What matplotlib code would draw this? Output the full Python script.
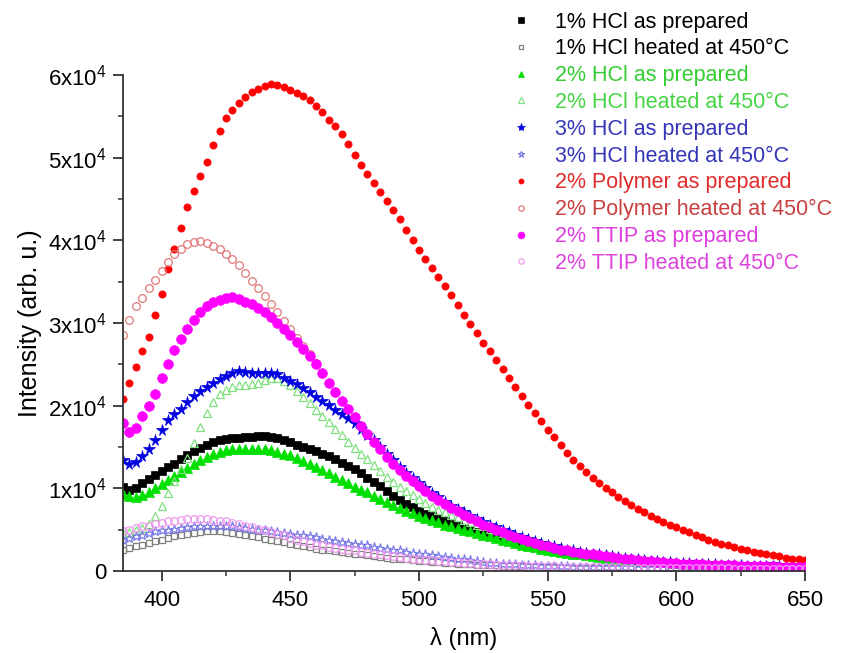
import numpy as np
import matplotlib
matplotlib.use('Agg')
import matplotlib.pyplot as plt
from matplotlib.ticker import MultipleLocator, FuncFormatter

plt.rcParams['font.family'] = ['Liberation Sans', 'DejaVu Sans']
plt.rcParams['mathtext.fontset'] = 'custom'
plt.rcParams['mathtext.rm'] = 'Liberation Sans'
plt.rcParams['mathtext.it'] = 'Liberation Sans:italic'

# wavelength grid of the readings (nm), one reading every 2.5 nm
wl = np.arange(385.0, 650.01, 2.5)

# PL intensities, in units of 10^3 (arb. u.)
hcl1_prep = [10.2, 9.8, 10.1, 10.6, 11.1, 11.6, 12.1, 12.6, 13.0, 13.5,
             14.0, 14.5, 14.9, 15.3, 15.6, 15.8, 16.0, 16.1, 16.1, 16.2,
             16.2, 16.3, 16.3, 16.2, 16.1, 15.9, 15.6, 15.3, 15.0, 14.8,
             14.5, 14.2, 13.9, 13.5, 13.1, 12.7, 12.3, 11.8, 11.3, 10.8,
             10.3, 9.7, 9.1, 8.6, 8.1, 7.7, 7.3, 6.9, 6.6, 6.3,
             6.0, 5.7, 5.4, 5.2, 4.9, 4.7, 4.5, 4.3, 4.1, 3.9,
             3.7, 3.5, 3.3, 3.1, 2.9, 2.8, 2.6, 2.5, 2.3, 2.2,
             2.1, 2.0, 1.9, 1.8, 1.7, 1.6, 1.5, 1.45, 1.4, 1.3,
             1.25, 1.2, 1.1, 1.05, 1.0, 0.95, 0.9, 0.87, 0.84, 0.81,
             0.78, 0.75, 0.72, 0.7, 0.68, 0.66, 0.64, 0.62, 0.6, 0.58,
             0.56, 0.55, 0.54, 0.53, 0.52, 0.51, 0.5]
hcl1_heat = [2.6, 2.8, 3.0, 3.2, 3.4, 3.6, 3.8, 4.0, 4.2, 4.4,
             4.5, 4.6, 4.7, 4.8, 4.8, 4.8, 4.7, 4.6, 4.5, 4.4,
             4.2, 4.1, 3.9, 3.8, 3.6, 3.5, 3.3, 3.2, 3.0, 2.9,
             2.7, 2.6, 2.5, 2.4, 2.3, 2.2, 2.1, 2.0, 1.9, 1.8,
             1.7, 1.6, 1.5, 1.45, 1.4, 1.3, 1.25, 1.2, 1.1, 1.05,
             1.0, 0.95, 0.9, 0.85, 0.8, 0.77, 0.74, 0.71, 0.68, 0.65,
             0.62, 0.59, 0.56, 0.54, 0.52, 0.5, 0.48, 0.46, 0.44, 0.42,
             0.4, 0.39, 0.38, 0.37, 0.36, 0.35, 0.34, 0.33, 0.32, 0.31,
             0.3, 0.29, 0.28, 0.28, 0.27, 0.26, 0.26, 0.25, 0.25, 0.24,
             0.24, 0.23, 0.23, 0.22, 0.22, 0.21, 0.21, 0.2, 0.2, 0.2,
             0.19, 0.19, 0.19, 0.18, 0.18, 0.18, 0.17]
hcl2_prep = [9.3, 9.1, 9.0, 9.2, 9.6, 10.0, 10.5, 11.0, 11.5, 12.0,
             12.5, 13.0, 13.4, 13.8, 14.1, 14.4, 14.6, 14.7, 14.8, 14.8,
             14.8, 14.8, 14.7, 14.6, 14.4, 14.2, 14.0, 13.7, 13.3, 13.0,
             12.6, 12.2, 11.8, 11.4, 11.0, 10.6, 10.2, 9.8, 9.5, 9.1,
             8.7, 8.4, 8.0, 7.6, 7.3, 7.0, 6.7, 6.4, 6.2, 5.9,
             5.6, 5.4, 5.2, 5.0, 4.8, 4.6, 4.4, 4.2, 4.0, 3.8,
             3.6, 3.4, 3.2, 3.0, 2.9, 2.7, 2.6, 2.4, 2.3, 2.2,
             2.1, 2.0, 1.9, 1.8, 1.7, 1.6, 1.5, 1.45, 1.4, 1.3,
             1.25, 1.2, 1.15, 1.1, 1.05, 1.0, 0.95, 0.9, 0.87, 0.84,
             0.81, 0.78, 0.75, 0.72, 0.7, 0.68, 0.66, 0.64, 0.62, 0.6,
             0.58, 0.56, 0.55, 0.54, 0.53, 0.52, 0.51]
hcl2_heat = [4.6, 4.7, 4.9, 5.2, 5.7, 6.6, 7.9, 9.4, 10.9, 12.3,
             13.7, 15.5, 17.4, 19.1, 20.4, 21.4, 21.9, 22.3, 22.5, 22.5,
             22.6, 22.8, 23.1, 23.3, 23.3, 23.0, 22.5, 21.8, 21.0, 20.3,
             19.5, 18.8, 18.0, 17.2, 16.4, 15.6, 14.9, 14.2, 13.5, 12.8,
             12.1, 11.4, 10.8, 10.2, 9.7, 9.2, 8.7, 8.2, 7.8, 7.4,
             7.1, 6.8, 6.5, 6.2, 5.9, 5.6, 5.4, 5.1, 4.9, 4.6,
             4.4, 4.2, 4.0, 3.8, 3.6, 3.4, 3.2, 3.0, 2.9, 2.7,
             2.6, 2.4, 2.3, 2.2, 2.1, 2.0, 1.9, 1.8, 1.7, 1.6,
             1.5, 1.4, 1.35, 1.3, 1.2, 1.15, 1.1, 1.05, 1.0, 0.96,
             0.92, 0.88, 0.85, 0.82, 0.79, 0.76, 0.73, 0.7, 0.68, 0.66,
             0.64, 0.62, 0.6, 0.58, 0.57, 0.56, 0.55]
hcl3_prep = [13.4, 12.9, 13.2, 13.9, 14.8, 15.9, 17.1, 18.3, 19.0, 19.6,
             20.5, 21.2, 21.8, 22.3, 22.8, 23.2, 23.6, 24.0, 24.2, 24.1,
             23.9, 23.9, 24.0, 24.0, 23.8, 23.4, 23.0, 22.6, 22.1, 21.6,
             21.1, 20.6, 20.1, 19.5, 19.0, 18.5, 17.9, 17.2, 16.5, 15.8,
             15.0, 14.2, 13.4, 12.6, 11.9, 11.2, 10.6, 10.0, 9.4, 8.9,
             8.4, 7.9, 7.5, 7.1, 6.7, 6.3, 5.9, 5.6, 5.3, 5.0,
             4.7, 4.4, 4.1, 3.9, 3.6, 3.4, 3.2, 3.0, 2.8, 2.6,
             2.5, 2.3, 2.2, 2.1, 2.0, 1.9, 1.8, 1.7, 1.6, 1.5,
             1.4, 1.3, 1.25, 1.2, 1.1, 1.05, 1.0, 0.95, 0.92, 0.88,
             0.85, 0.82, 0.79, 0.76, 0.73, 0.7, 0.68, 0.66, 0.64, 0.62,
             0.6, 0.58, 0.57, 0.56, 0.55, 0.54, 0.53]
hcl3_heat = [3.8, 4.0, 4.2, 4.4, 4.6, 4.8, 4.9, 5.0, 5.1, 5.2,
             5.3, 5.4, 5.4, 5.5, 5.5, 5.5, 5.4, 5.4, 5.3, 5.2,
             5.1, 5.0, 4.9, 4.8, 4.7, 4.6, 4.5, 4.4, 4.3, 4.2,
             4.1, 3.9, 3.8, 3.6, 3.5, 3.4, 3.3, 3.2, 3.1, 2.95,
             2.8, 2.7, 2.6, 2.5, 2.35, 2.2, 2.1, 2.0, 1.9, 1.8,
             1.7, 1.6, 1.5, 1.4, 1.3, 1.2, 1.1, 1.0, 0.95, 0.9,
             0.85, 0.8, 0.75, 0.72, 0.69, 0.66, 0.63, 0.6, 0.58, 0.56,
             0.54, 0.52, 0.5, 0.49, 0.48, 0.47, 0.46, 0.45, 0.44, 0.43,
             0.42, 0.41, 0.4, 0.39, 0.38, 0.37, 0.36, 0.36, 0.35, 0.35,
             0.34, 0.34, 0.33, 0.33, 0.32, 0.32, 0.31, 0.31, 0.3, 0.3,
             0.3, 0.29, 0.29, 0.29, 0.28, 0.28, 0.28]
poly_prep = [20.8, 22.8, 24.7, 26.6, 28.3, 31.0, 33.5, 36.5, 39.0, 41.5,
             44.0, 46.0, 47.8, 49.5, 51.5, 53.2, 54.8, 55.8, 56.6, 57.3,
             57.9, 58.3, 58.7, 58.9, 58.8, 58.5, 58.2, 57.8, 57.4, 57.0,
             56.3, 55.5, 54.6, 53.8, 52.9, 51.6, 50.3, 49.1, 48.0, 46.9,
             45.8, 44.8, 43.7, 42.6, 41.3, 40.0, 38.8, 37.8, 36.7, 35.6,
             34.5, 33.4, 32.2, 31.0, 29.9, 28.8, 27.6, 26.6, 25.5, 24.4,
             23.3, 22.3, 21.2, 20.1, 19.1, 18.1, 17.1, 16.2, 15.2, 14.3,
             13.4, 12.7, 12.0, 11.3, 10.7, 10.1, 9.5, 9.0, 8.5, 8.0,
             7.5, 7.1, 6.7, 6.3, 5.9, 5.6, 5.3, 5.0, 4.7, 4.4,
             4.1, 3.8, 3.5, 3.3, 3.1, 2.9, 2.7, 2.5, 2.3, 2.2,
             2.1, 1.9, 1.8, 1.6, 1.5, 1.4, 1.3]
# this one is only visible from 385 to 460 nm
poly_heat = [28.6, 30.4, 32.0, 33.0, 34.2, 35.2, 36.3, 37.4, 38.3, 39.0,
             39.5, 39.8, 39.9, 39.7, 39.3, 38.9, 38.4, 37.8, 37.0, 36.0,
             35.1, 34.2, 33.3, 32.3, 31.3, 30.3, 29.3, 28.2, 27.2, 26.2,
             25.2]
ttip_prep = [17.9, 16.8, 17.3, 18.8, 20.0, 21.4, 23.3, 25.1, 26.7, 28.1,
             29.3, 30.4, 31.3, 32.0, 32.5, 32.8, 33.0, 33.1, 32.9, 32.6,
             32.3, 31.8, 31.3, 30.7, 30.0, 29.3, 28.6, 27.7, 26.9, 26.0,
             25.0, 23.9, 22.8, 21.7, 20.6, 19.6, 18.6, 17.6, 16.6, 15.6,
             14.7, 13.8, 13.0, 12.2, 11.5, 10.9, 10.3, 9.7, 9.1, 8.6,
             8.1, 7.6, 7.2, 6.8, 6.4, 6.0, 5.6, 5.3, 5.0, 4.7,
             4.4, 4.1, 3.9, 3.6, 3.4, 3.2, 3.0, 2.8, 2.6, 2.5,
             2.3, 2.2, 2.1, 2.0, 1.9, 1.8, 1.7, 1.6, 1.5, 1.4,
             1.3, 1.25, 1.2, 1.1, 1.05, 1.0, 0.95, 0.9, 0.88, 0.85,
             0.8, 0.78, 0.75, 0.72, 0.7, 0.68, 0.65, 0.63, 0.6, 0.58,
             0.56, 0.55, 0.54, 0.53, 0.52, 0.51, 0.5]
ttip_heat = [4.8, 5.0, 5.2, 5.4, 5.5, 5.7, 5.8, 6.0, 6.1, 6.2,
             6.3, 6.3, 6.3, 6.3, 6.2, 6.1, 6.0, 5.8, 5.7, 5.5,
             5.3, 5.1, 4.9, 4.7, 4.5, 4.3, 4.0, 3.8, 3.6, 3.4,
             3.2, 3.1, 2.9, 2.8, 2.7, 2.6, 2.5, 2.3, 2.2, 2.1,
             2.0, 1.9, 1.8, 1.7, 1.6, 1.5, 1.4, 1.35, 1.3, 1.2,
             1.15, 1.1, 1.05, 1.0, 0.95, 0.9, 0.85, 0.8, 0.78, 0.75,
             0.72, 0.7, 0.67, 0.64, 0.62, 0.6, 0.58, 0.56, 0.54, 0.52,
             0.5, 0.49, 0.48, 0.47, 0.46, 0.45, 0.44, 0.43, 0.42, 0.41,
             0.4, 0.39, 0.38, 0.37, 0.36, 0.35, 0.35, 0.34, 0.34, 0.33,
             0.33, 0.32, 0.32, 0.31, 0.31, 0.3, 0.3, 0.3, 0.29, 0.29,
             0.29, 0.28, 0.28, 0.28, 0.27, 0.27, 0.27]

labels = ['1% HCl as prepared', '1% HCl heated at 450°C',
          '2% HCl as prepared', '2% HCl heated at 450°C',
          '3% HCl as prepared', '3% HCl heated at 450°C',
          '2% Polymer as prepared', '2% Polymer heated at 450°C',
          '2% TTIP as prepared', '2% TTIP heated at 450°C']
data = [hcl1_prep, hcl1_heat, hcl2_prep, hcl2_heat, hcl3_prep,
        hcl3_heat, poly_prep, poly_heat, ttip_prep, ttip_heat]

# marker, marker colour, filled?, size, legend text colour
styles = [('s', '#000000', True, 6.0, '#000000'),
          ('s', '#808080', False, 5.0, '#000000'),
          ('^', '#00e000', True, 6.5, '#33cc33'),
          ('^', '#7fe07f', False, 5.5, '#44d444'),
          ('*', '#0000e0', True, 8.5, '#3535b8'),
          ('*', '#7a7ae6', False, 6.5, '#3535b8'),
          ('o', '#ff0000', True, 5.2, '#e02c2c'),
          ('o', '#e07878', False, 5.5, '#c84040'),
          ('o', '#ff00ff', True, 7.0, '#dd3cdd'),
          ('o', '#ee99ee', False, 5.5, '#dd44dd')]


def plot_series(ax, y, label, style):
    mk, col, filled, ms, _ = style
    y = np.array(y) * 1000.0
    x = wl[:len(y)]
    if filled:
        h, = ax.plot(x, y, ls='none', marker=mk, ms=ms, mfc=col, mec=col,
                     mew=0.5, label=label)
    else:
        h, = ax.plot(x, y, ls='none', marker=mk, ms=ms, mfc='none', mec=col,
                     mew=0.9, label=label)
    return h


def ylab(v, pos):
    n = int(round(v / 10000.0))
    if n == 0:
        return '0'
    return '%dx10$^4$' % n


fig = plt.figure(figsize=(8.49, 6.53), dpi=100)
ax = fig.add_axes([123 / 849., 82 / 653., 682 / 849., 496 / 653.])

handles = []
for y, lab, st in zip(data, labels, styles):
    handles.append(plot_series(ax, y, lab, st))

ax.set_xlim(385, 650)
ax.set_ylim(0, 60000)
ax.xaxis.set_major_locator(MultipleLocator(50))
ax.xaxis.set_minor_locator(MultipleLocator(25))
ax.yaxis.set_major_locator(MultipleLocator(10000))
ax.yaxis.set_minor_locator(MultipleLocator(5000))
ax.yaxis.set_major_formatter(FuncFormatter(ylab))

for s in ['top', 'right']:
    ax.spines[s].set_visible(False)
for s in ['left', 'bottom']:
    ax.spines[s].set_color('#333333')
    ax.spines[s].set_linewidth(1.3)
ax.tick_params(which='major', direction='out', length=7, width=1.3,
               color='#333333', labelsize=16, pad=5)
ax.tick_params(axis='x', which='major', pad=7)
ax.tick_params(which='minor', direction='out', length=3.6, width=1.1,
               color='#333333')

ax.set_xlabel('λ (nm)', fontsize=17, labelpad=11)
ax.set_ylabel('Intensity (arb. u.)', fontsize=18, labelpad=4)

leg = fig.legend(handles=handles, loc='upper left',
                 bbox_to_anchor=(491 / 849., 1.012), frameon=False,
                 fontsize=15.5, markerscale=0.7, handlelength=1.0,
                 handletextpad=1.05, labelspacing=0.27, borderpad=0.4)
for t, st in zip(leg.get_texts(), styles):
    t.set_color(st[4])

fig.savefig('out.png', dpi=100)
